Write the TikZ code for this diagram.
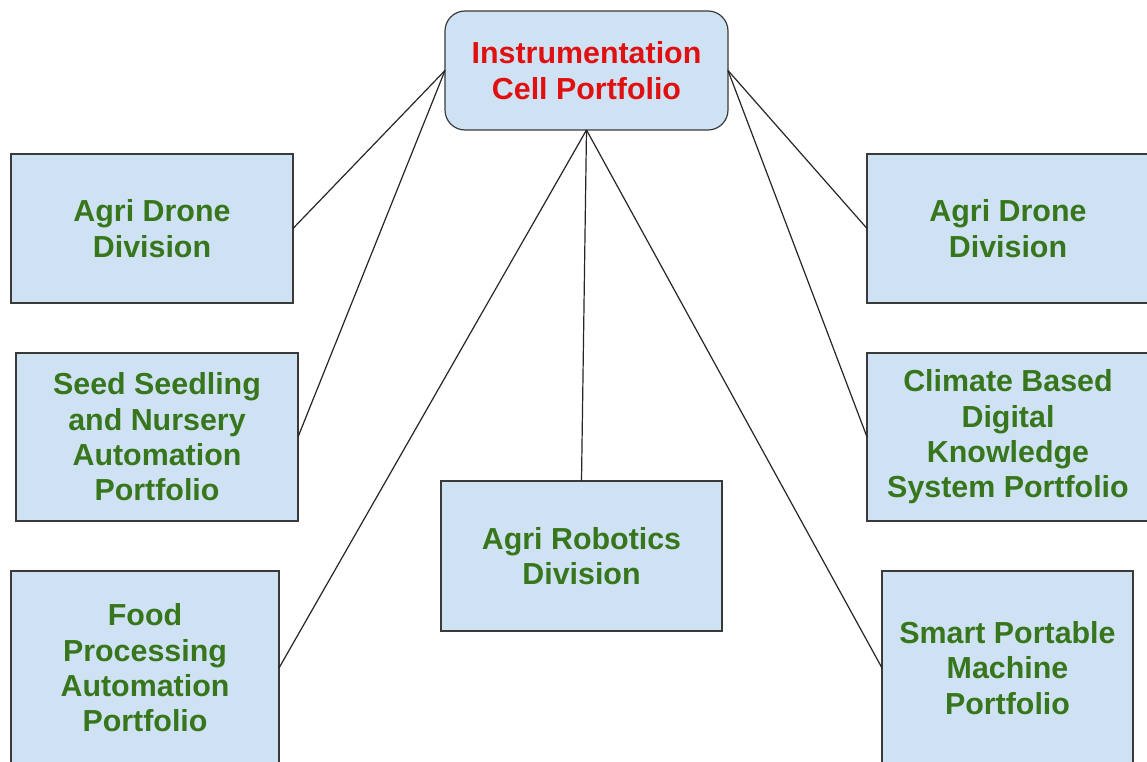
\documentclass[tikz,border=0pt]{standalone}
\usepackage{fontspec}
\setmainfont{Liberation Sans}
\definecolor{boxfill}{HTML}{CFE2F3}
\definecolor{boxline}{HTML}{3A3A3A}
\definecolor{txtgreen}{HTML}{38761D}
\definecolor{txtred}{HTML}{E01010}
\begin{document}
\begin{tikzpicture}[x=0.75pt,y=-0.75pt,
  box/.style={draw=boxline, fill=boxfill, line width=0.9pt, inner sep=0pt, outer sep=0pt,
    align=center, text=txtgreen, font=\fontsize{22.8}{26.5}\selectfont\bfseries},
  topbox/.style={box, rounded corners=15pt, text=txtred},
  link/.style={draw=black!85, line width=0.9pt}]
\useasboundingbox (0,0) rectangle (1147,762);
\clip (0,0) rectangle (1147,762);
\fill[white] (0,0) rectangle (1147,762);
\node[topbox, minimum width=212.25pt, minimum height=89.25pt] (top) at (586.5,70.5) {Instrumentation\\Cell Portfolio};
\node[box, minimum width=211.5pt, minimum height=111.75pt] (l1) at (152,228.5) {Agri Drone\\Division};
\node[box, minimum width=211.5pt, minimum height=126pt] (l2) at (157,437) {Seed Seedling\\and Nursery\\Automation\\Portfolio};
\node[box, minimum width=201pt, minimum height=145.5pt] (l3) at (145,668) {Food\\Processing\\Automation\\Portfolio};
\node[box, minimum width=210.75pt, minimum height=112.5pt] (c) at (581.5,556) {Agri Robotics\\Division};
\node[box, minimum width=211.5pt, minimum height=111.75pt] (r1) at (1008,228.5) {Agri Drone\\Division};
\node[box, minimum width=211.5pt, minimum height=126pt] (r2) at (1008,437) {Climate Based\\Digital\\Knowledge\\System Portfolio};
\node[box, minimum width=188.25pt, minimum height=145.5pt] (r3) at (1007.5,668) {Smart Portable\\Machine\\Portfolio};
\draw[link] (top.west) -- (l1.east);
\draw[link] (top.west) -- (l2.east);
\draw[link] (top.south) -- (l3.east);
\draw[link] (top.south) -- (c.north);
\draw[link] (top.south) -- (r3.west);
\draw[link] (top.east) -- (r1.west);
\draw[link] (top.east) -- (r2.west);
\end{tikzpicture}
\end{document}
